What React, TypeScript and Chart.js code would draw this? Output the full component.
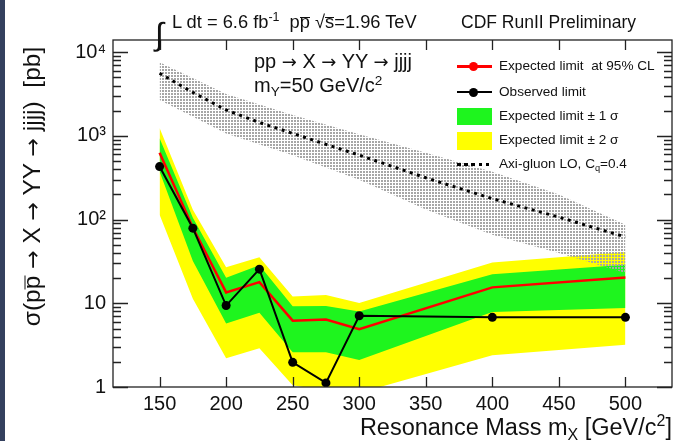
import React, { useEffect, useRef } from 'react';
import { Chart, registerables } from 'chart.js';
Chart.register(...registerables);

const FONT = '"Liberation Sans", Arial, Helvetica, sans-serif';

// Resonance masses (GeV/c^2)
const masses = [150, 175, 200, 225, 250, 275, 300, 400, 500];
// Observed limit (pb)
const observed = [430, 79, 9.4, 25.6, 1.97, 1.12, 7.1, 6.8, 6.8];
// Expected limit at 95% CL (pb)
const expected = [630, 80, 13.5, 17.9, 6.2, 6.4, 4.9, 15.5, 20.4];
// +-1 sigma band
const sigma1Up = [940, 105, 20.2, 28.5, 9.2, 9.3, 8.0, 22.3, 28.9];
const sigma1Dn = [375, 32, 5.75, 7.7, 2.6, 2.6, 2.1, 7.9, 8.8];
// +-2 sigma band
const sigma2Up = [1240, 131, 27, 35.5, 12.1, 12.6, 10.1, 30.7, 40.9];
const sigma2Dn = [114, 11.3, 2.2, 2.9, 1.05, 0.9, 0.85, 2.4, 3.2];
// Axi-gluon LO cross section
const axiMass = [150, 175, 200, 225, 250, 275, 300, 350, 400, 450, 500];
const axiLO = [5610, 3311, 2042, 1445, 1072, 794, 589, 316, 178, 107, 62];
// Axi-gluon uncertainty band
const axiBandMass = [150, 200, 250, 300, 350, 400, 450, 500];
const axiUp = [7586, 3162, 1778, 1047, 631, 372, 200, 87];
const axiDn = [2692, 1072, 589, 300, 132, 66, 40, 23];

// Ticks
const xTickValues = [150, 200, 250, 300, 350, 400, 450, 500];
const yTickValues = [1, 10, 100, 1000, 10000];
const yTickLabels = ['1', '10', '10\u00B2', '10\u00B3', '10\u2074'];

function pts(xs: number[], ys: number[]) {
  return xs.map((x, i) => ({ x, y: ys[i] }));
}

const framePlugin = {
  id: 'rootFrame',
  afterDraw(chart: any) {
    const { ctx, chartArea: a, scales } = chart;
    const x = scales.x;
    const y = scales.y;
    ctx.save();
    ctx.strokeStyle = '#222';
    ctx.lineWidth = 1.3;
    ctx.strokeRect(a.left, a.top, a.right - a.left, a.bottom - a.top);
    ctx.beginPath();
    for (const t of x.ticks) {
      const px = Math.round(x.getPixelForValue(t.value)) + 0.5;
      ctx.moveTo(px, a.bottom);
      ctx.lineTo(px, a.bottom - 10);
      ctx.moveTo(px, a.top);
      ctx.lineTo(px, a.top + 10);
    }
    for (const t of y.ticks) {
      const py = Math.round(y.getPixelForValue(t.value)) + 0.5;
      const major = yTickValues.indexOf(t.value) >= 0;
      const len = major ? 15 : 8;
      ctx.moveTo(a.left, py);
      ctx.lineTo(a.left + len, py);
      ctx.moveTo(a.right, py);
      ctx.lineTo(a.right - len, py);
    }
    ctx.stroke();
    ctx.restore();
  },
};

const sup = (s: string) => (
  <span style={{ fontSize: '0.68em', position: 'relative', top: '-0.55em' }}>{s}</span>
);
const sub = (s: string) => (
  <span style={{ fontSize: '0.68em', position: 'relative', top: '0.32em' }}>{s}</span>
);
const ol = (s: string) => (
  <span style={{ display: 'inline-block', borderTop: '1.2px solid #111', lineHeight: '0.45em' }}>{s}</span>
);
const arrow = () => <span style={{ fontFamily: '"DejaVu Sans", sans-serif', fontSize: '0.9em' }}>→</span>;

export default function App() {
  const ref = useRef<HTMLCanvasElement>(null);
  useEffect(() => {
    const canvas = ref.current!;
    const tile = document.createElement('canvas');
    tile.width = 3;
    tile.height = 3;
    const tctx = tile.getContext('2d')!;
    tctx.fillStyle = '#a6a6a6';
    tctx.fillRect(0, 0, 2, 2);
    const pattern = canvas.getContext('2d')!.createPattern(tile, 'repeat')!;
    const none = 'rgba(0,0,0,0)';
    const chart = new Chart(canvas, {
      type: 'line',
      data: {
        datasets: [
          { label: 'Observed limit', data: pts(masses, observed), borderColor: '#000', backgroundColor: '#000', borderWidth: 2, pointRadius: 4.5, pointBorderWidth: 0, fill: false, order: 0 },
          { label: 'Expected limit at 95% CL', data: pts(masses, expected), borderColor: '#ff0000', borderWidth: 2.5, pointRadius: 0, fill: false, order: 1 },
          { label: 'Axi-gluon LO', data: pts(axiMass, axiLO), borderColor: '#000', borderWidth: 3, borderDash: [3, 4.5], pointRadius: 0, fill: false, order: 2 },
          { label: 'axi up', data: pts(axiBandMass, axiUp), borderColor: none, borderWidth: 0, backgroundColor: pattern, pointRadius: 0, fill: 4, order: 3 },
          { label: 'axi dn', data: pts(axiBandMass, axiDn), borderColor: none, borderWidth: 0, pointRadius: 0, fill: false, order: 4 },
          { label: '1s up', data: pts(masses, sigma1Up), borderColor: none, borderWidth: 0, backgroundColor: '#1ef51e', pointRadius: 0, fill: 6, order: 5 },
          { label: '1s dn', data: pts(masses, sigma1Dn), borderColor: none, borderWidth: 0, pointRadius: 0, fill: false, order: 6 },
          { label: '2s up', data: pts(masses, sigma2Up), borderColor: none, borderWidth: 0, backgroundColor: '#ffff00', pointRadius: 0, fill: 8, order: 7 },
          { label: '2s dn', data: pts(masses, sigma2Dn), borderColor: none, borderWidth: 0, pointRadius: 0, fill: false, order: 8 },
        ] as any,
      },
      options: {
        responsive: false,
        animation: false,
        events: [],
        layout: { padding: { left: 0, top: 40, right: 11, bottom: 0 } },
        plugins: { legend: { display: false }, tooltip: { enabled: false } },
        scales: {
          x: {
            type: 'linear',
            min: 115,
            max: 535,
            grid: { display: false, drawTicks: false },
            border: { display: false },
            afterBuildTicks: (s: any) => {
              s.ticks = xTickValues.map((v) => ({ value: v }));
            },
            afterFit: (s: any) => {
              s.height = 54;
            },
            ticks: { font: { family: FONT, size: 20 }, color: '#111', padding: 5, maxRotation: 0, autoSkip: false },
          },
          y: {
            type: 'logarithmic',
            min: 1,
            max: 14000,
            grid: { display: false, drawTicks: false },
            border: { display: false },
            afterBuildTicks: (s: any) => {
              const t: any[] = [];
              for (let d = 1; d <= 10000; d *= 10) {
                for (let k = 1; k <= 9; k++) {
                  const v = k * d;
                  if (v <= 14000) t.push({ value: v });
                }
              }
              s.ticks = t;
            },
            afterFit: (s: any) => {
              s.width = 113;
            },
            ticks: {
              font: { family: FONT, size: 20 },
              color: '#111',
              padding: 7,
              autoSkip: false,
              callback: (v: any) => {
                const i = yTickValues.indexOf(Number(v));
                return i >= 0 ? yTickLabels[i] : '';
              },
            },
          },
        },
      },
      plugins: [framePlugin],
    });
    return () => chart.destroy();
  }, []);

  const legendText: React.CSSProperties = { position: 'absolute', left: 499, fontSize: 13.6, lineHeight: '14px', whiteSpace: 'nowrap' };
  const dot = (cx: number, cy: number, color: string) => (
    <div style={{ position: 'absolute', left: cx - 4.5, top: cy - 4.5, width: 9, height: 9, borderRadius: '50%', background: color }} />
  );

  return (
    <div style={{ position: 'absolute', left: 0, top: 0, width: 683, height: 441, background: '#fff', overflow: 'hidden', fontFamily: FONT, color: '#111' }}>
      <canvas ref={ref} width={683} height={441} style={{ position: 'absolute', left: 0, top: 0 }} />
      <div style={{ position: 'absolute', left: 0, top: 0, width: 5, height: 441, background: '#34405e' }} />

      {/* top labels */}
      <div style={{ position: 'absolute', left: 155, top: 18, fontSize: 32, lineHeight: '32px' }}>∫</div>
      <div style={{ position: 'absolute', left: 172, top: 13, fontSize: 18.3, lineHeight: '18px', whiteSpace: 'nowrap' }}>
        L dt = 6.6 fb{sup('-1')}&nbsp;&nbsp;p{ol('p')} √{ol('s')}=1.96 TeV
      </div>
      <div style={{ position: 'absolute', left: 461, top: 14, fontSize: 17.5, lineHeight: '17.5px', whiteSpace: 'nowrap' }}>
        CDF RunII Preliminary
      </div>
      <div style={{ position: 'absolute', left: 254, top: 51, fontSize: 20, lineHeight: '20px', whiteSpace: 'nowrap' }}>
        pp {arrow()} X {arrow()} YY {arrow()} jjjj
      </div>
      <div style={{ position: 'absolute', left: 254, top: 75, fontSize: 20, lineHeight: '20px', whiteSpace: 'nowrap' }}>
        m{sub('Y')}=50 GeV/c{sup('2')}
      </div>

      {/* legend */}
      <div style={{ position: 'absolute', left: 457, top: 65, width: 35, height: 2.5, background: '#ff0000' }} />
      {dot(473, 66, '#ff0000')}
      <div style={{ ...legendText, top: 59 }}>Expected limit&nbsp; at 95% CL</div>
      <div style={{ position: 'absolute', left: 457, top: 91, width: 35, height: 2, background: '#000' }} />
      {dot(473, 92, '#000')}
      <div style={{ ...legendText, top: 85 }}>Observed limit</div>
      <div style={{ position: 'absolute', left: 457, top: 108, width: 35, height: 17, background: '#1ef51e' }} />
      <div style={{ ...legendText, top: 109 }}>Expected limit ± 1 σ</div>
      <div style={{ position: 'absolute', left: 457, top: 132, width: 35, height: 18, background: '#ffff00' }} />
      <div style={{ ...legendText, top: 133 }}>Expected limit ± 2 σ</div>
      {[0, 1, 2, 3, 4].map((i) => (
        <div key={i} style={{ position: 'absolute', left: 457 + i * 7.2, top: 162.5, width: 3.5, height: 3.5, background: '#000' }} />
      ))}
      <div style={{ ...legendText, top: 157 }}>Axi-gluon LO, C{sub('q')}=0.4</div>

      {/* axis titles */}
      <div style={{ position: 'absolute', right: 11, top: 415, fontSize: 23.5, lineHeight: '24px', whiteSpace: 'nowrap' }}>
        Resonance Mass m{sub('X')} [GeV/c{sup('2')}]
      </div>
      <div
        style={{
          position: 'absolute',
          left: 32 - 180,
          top: 186 - 12,
          width: 360,
          textAlign: 'center',
          fontSize: 24.5,
          lineHeight: '24px',
          whiteSpace: 'nowrap',
          transform: 'rotate(-90deg)',
          transformOrigin: '50% 50%',
        }}
      >
        σ(p{ol('p')} {arrow()} X {arrow()} YY {arrow()} jjjj)&nbsp; [pb]
      </div>
    </div>
  );
}
